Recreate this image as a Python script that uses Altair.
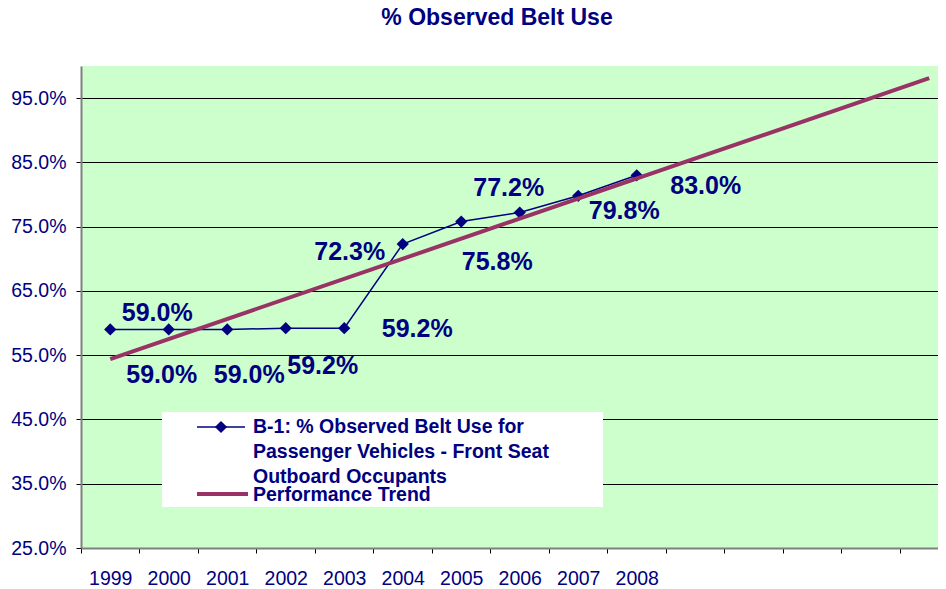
import altair as alt
import pandas as pd

# ---- data ----
years = [1999, 2000, 2001, 2002, 2003, 2004, 2005, 2006, 2007, 2008]
belt_use = [59.0, 59.0, 59.0, 59.2, 59.2, 72.3, 75.8, 77.2, 79.8, 83.0]
trend_years = [1999, 2013]
trend_values = [54.4, 98.1]
y_tick_values = [25, 35, 45, 55, 65, 75, 85, 95]
x_tick_bounds = [1998.5 + i for i in range(15)]
last_labelled_year = 2008
chart_title = "% Observed Belt Use"
legend_lines = [
    "B-1: % Observed Belt Use for",
    "Passenger Vehicles - Front Seat",
    "Outboard Occupants",
    "Performance Trend",
]

# label placement offsets (pixels, relative to the point)
label_dx = [47, -7, 22, 37, 73, -53, 36, -11, 46, 69]
label_dy = [-16, 46, 46, 38, 1, 8, 40, -25, 15, 11]

# ---- layout / style ----
W, H = 857, 482
X_MIN, X_MAX = 1998.5, 2013.15
Y_MIN, Y_MAX = 25, 100
PX_X = W / (X_MAX - X_MIN)
PX_Y = H / (Y_MAX - Y_MIN)
NAVY = "#000080"
TREND = "#993366"
FONT = "Liberation Sans"

df = pd.DataFrame({"year": years, "value": belt_use})
df["label"] = [f"{v:.1f}%" for v in belt_use]
df["lx"] = [y + dx / PX_X for y, dx in zip(years, label_dx)]
df["ly"] = [v - dy / PX_Y for v, dy in zip(belt_use, label_dy)]
trend_df = pd.DataFrame({"year": trend_years, "value": trend_values})
one = pd.DataFrame({"k": [0]})

x_scale = alt.Scale(domain=[X_MIN, X_MAX], nice=False, zero=False)
y_scale = alt.Scale(domain=[Y_MIN, Y_MAX], nice=False, zero=False)

x_axis = alt.Axis(
    values=x_tick_bounds, grid=False, title=None,
    labelFlush=False, labelOverlap=False, labelOffset=PX_X / 2,
    labelExpr=f"datum.value + 0.5 <= {last_labelled_year} ? toString(datum.value + 0.5) : ''",
    labelColor=NAVY, labelFont=FONT, labelFontSize=19.5,
    labelBaseline="alphabetic", labelPadding=31,
    tickColor="black", tickSize=5, tickWidth=1,
    domainColor="#808080", domainWidth=2,
)
y_axis = alt.Axis(
    values=y_tick_values, grid=True, title=None,
    gridColor="black", gridWidth=1, gridOpacity=1,
    labelExpr="format(datum.value, '.1f') + '%'",
    labelColor=NAVY, labelFont=FONT, labelFontSize=19.5, labelPadding=10,
    labelFlush=False,
    tickColor="black", tickSize=5, tickWidth=1,
    domainColor="#808080", domainWidth=2,
)

X = alt.X("year:Q", scale=x_scale, axis=x_axis)
Y = alt.Y("value:Q", scale=y_scale, axis=y_axis)

title_mark = alt.Chart(one).mark_text(
    font=FONT, fontSize=23, fontWeight="bold", color=NAVY,
    align="center", baseline="alphabetic",
).encode(x=alt.value(416), y=alt.value(-41), text=alt.value(chart_title))

legend_box = alt.Chart(one).mark_rect(fill="white").encode(
    x=alt.value(81), x2=alt.value(522), y=alt.value(346), y2=alt.value(441)
)

data_line = alt.Chart(df).mark_line(color=NAVY, strokeWidth=1.5).encode(x=X, y=Y)
data_pts = alt.Chart(df).mark_point(
    shape="diamond", filled=True, color=NAVY, size=150, opacity=1
).encode(x=X, y=Y)
trend_line = alt.Chart(trend_df).mark_line(color=TREND, strokeWidth=4).encode(x=X, y=Y)

labels = alt.Chart(df).mark_text(
    font=FONT, fontSize=25, fontWeight="bold", color=NAVY,
    align="center", baseline="middle",
).encode(
    x=alt.X("lx:Q", scale=x_scale, axis=x_axis),
    y=alt.Y("ly:Q", scale=y_scale, axis=y_axis),
    text="label:N",
)

leg_sym1 = alt.Chart(one).mark_rule(color=NAVY, strokeWidth=1.5).encode(
    x=alt.value(116), x2=alt.value(164), y=alt.value(361)
)
leg_dia = alt.Chart(one).mark_point(
    shape="diamond", filled=True, color=NAVY, size=150, opacity=1
).encode(x=alt.value(140), y=alt.value(361))
leg_sym2 = alt.Chart(one).mark_rule(color=TREND, strokeWidth=4).encode(
    x=alt.value(116), x2=alt.value(167), y=alt.value(428)
)
leg_baselines = [367, 392, 417, 435]
leg_texts = [
    alt.Chart(one).mark_text(
        font=FONT, fontSize=19.5, fontWeight="bold", color=NAVY,
        align="left", baseline="alphabetic",
    ).encode(x=alt.value(172), y=alt.value(b), text=alt.value(t))
    for t, b in zip(legend_lines, leg_baselines)
]

chart = alt.layer(
    legend_box, data_line, data_pts, trend_line, labels,
    leg_sym1, leg_dia, leg_sym2, *leg_texts, title_mark,
).properties(
    width=W, height=H,
    padding={"left": 73, "top": 58, "right": 0, "bottom": 41},
    autosize=alt.AutoSizeParams(type="none"),
).configure_view(fill="#CCFFCC", stroke=None)

chart.save("out.html", embed_options={"renderer": "svg", "actions": False})
